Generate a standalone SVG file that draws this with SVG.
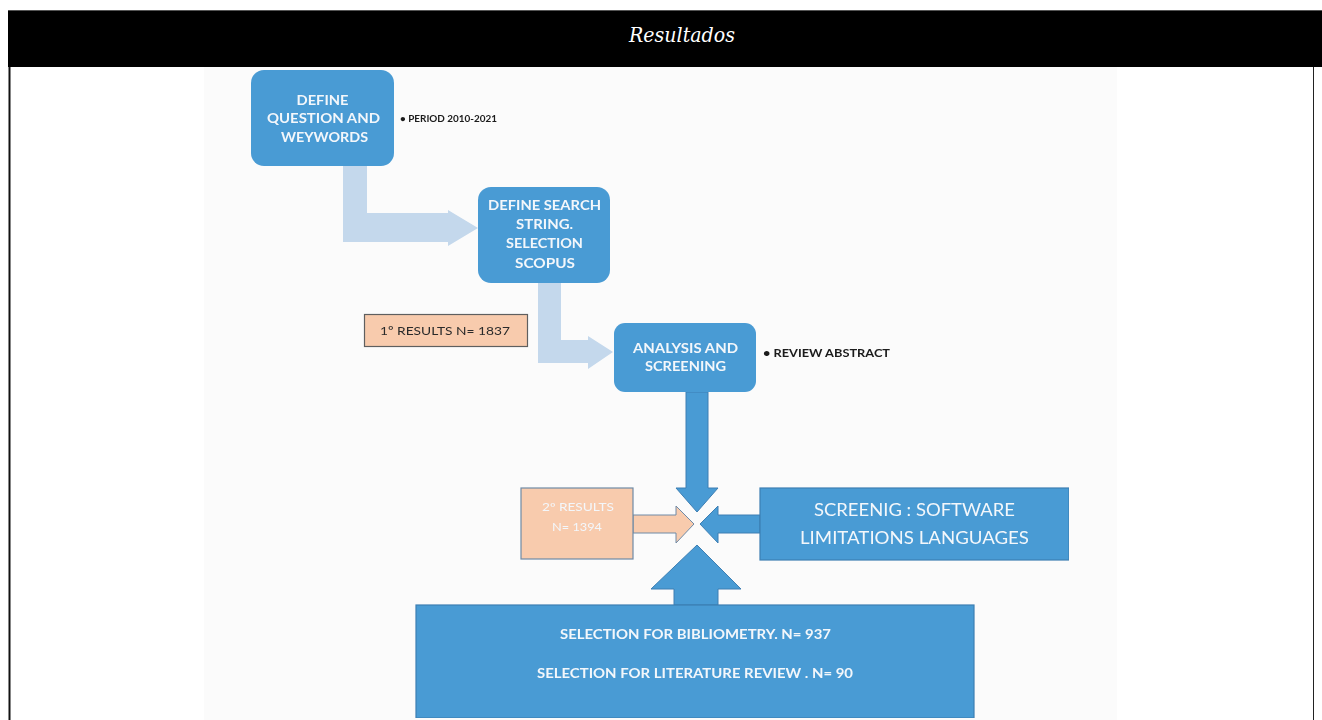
<svg xmlns="http://www.w3.org/2000/svg" width="1322" height="720" viewBox="0 0 1322 720">
  <defs>
    <style>
      .box { fill: #4a9bd4; }
      .rect-box { fill: #4a9bd4; stroke: #3d7fb3; stroke-width: 1.2; }
      .peach { fill: #f8cbad; stroke: #6f8aa6; stroke-width: 1.2; }
      .peach-dark { fill: #f8cbad; stroke: #5f5f5f; stroke-width: 1.2; }
      .light-arrow { fill: #c4d8ec; }
      .blue-arrow { fill: #4a9bd4; stroke: #3d7fb3; stroke-width: 1; }
      .peach-arrow { fill: #f8cbad; stroke: #6f8aa6; stroke-width: 1; }
      .lbl { font-family: Lato, "Liberation Sans", sans-serif; font-weight: bold; fill: #f3f7fb; text-anchor: middle; }
      .note { font-family: Lato, "Liberation Sans", sans-serif; font-weight: bold; fill: #1a1a1a; }
      .title { font-family: "DejaVu Serif", "Liberation Serif", serif; font-style: italic; fill: #ffffff; text-anchor: middle; }
    </style>
    <filter id="soft" x="0" y="0" width="1" height="1">
      <feGaussianBlur stdDeviation="0.45"/>
    </filter>
  </defs>

  <!-- page and frame -->
  <rect x="0" y="0" width="1322" height="720" fill="#ffffff"/>
  <rect x="8" y="10" width="1314" height="57" fill="#000000"/>
  <line x1="8" y1="10.5" x2="1322" y2="10.5" stroke="#555555" stroke-width="1"/>
  <line x1="9.5" y1="67" x2="9.5" y2="720" stroke="#111111" stroke-width="2"/>
  <line x1="1313.5" y1="67" x2="1313.5" y2="720" stroke="#222222" stroke-width="1"/>
  <text class="title" x="682" y="42" font-size="20" textLength="106" lengthAdjust="spacingAndGlyphs">Resultados</text>

  <!-- figure panel -->
  <rect x="204" y="67" width="913" height="653" fill="#fbfbfb"/>

  <g filter="url(#soft)">
    <!-- connectors -->
    <g id="connectors">
      <path class="light-arrow" d="M343,166 H367 V213 H448 V210 L478,228 L448,246 V242 H343 Z"/>
      <path class="light-arrow" d="M538,283 H561 V340 H588 V336 L613,352 L588,369 V363 H538 Z"/>
      <path class="blue-arrow" d="M686,392 H708 V488 H718 L697,512 L676,488 H686 Z"/>
      <path class="peach-arrow" d="M633,515 H676 V506 L694,524 L676,543 V533 H633 Z"/>
      <path class="blue-arrow" d="M760,515 H718 V506 L700,524 L718,543 V533 H760 Z"/>
      <path class="blue-arrow" d="M674,605 V589 H651 L697,545 L741,589 H718 V605 Z"/>
    </g>

    <g id="define-question">
      <rect class="box" x="251" y="70" width="143" height="96" rx="13"/>
      <text class="lbl" font-size="13" x="322.5" y="105" textLength="52" lengthAdjust="spacingAndGlyphs">DEFINE</text>
      <text class="lbl" font-size="13" x="323.5" y="123" textLength="113" lengthAdjust="spacingAndGlyphs">QUESTION AND</text>
      <text class="lbl" font-size="13" x="324.5" y="142" textLength="87" lengthAdjust="spacingAndGlyphs">WEYWORDS</text>
    </g>

    <g id="note-period">
      <text class="note" font-size="10" x="400" y="122" textLength="97" lengthAdjust="spacingAndGlyphs">• PERIOD 2010-2021</text>
    </g>

    <g id="define-search">
      <rect class="box" x="478" y="187" width="132" height="96" rx="13"/>
      <text class="lbl" font-size="13" x="544.5" y="210" textLength="113" lengthAdjust="spacingAndGlyphs">DEFINE SEARCH</text>
      <text class="lbl" font-size="13" x="544.5" y="229" textLength="57" lengthAdjust="spacingAndGlyphs">STRING.</text>
      <text class="lbl" font-size="13" x="544.5" y="248" textLength="77" lengthAdjust="spacingAndGlyphs">SELECTION</text>
      <text class="lbl" font-size="13" x="545" y="268" textLength="60" lengthAdjust="spacingAndGlyphs">SCOPUS</text>
    </g>

    <g id="results-1">
      <rect class="peach-dark" x="364.5" y="314.5" width="163" height="32"/>
      <text class="note" font-size="12" x="380" y="335" textLength="130" lengthAdjust="spacingAndGlyphs" style="font-weight:normal;fill:#2a2a2a">1º RESULTS  N= 1837</text>
    </g>

    <g id="analysis">
      <rect class="box" x="614" y="323" width="142" height="69" rx="11"/>
      <text class="lbl" font-size="13" x="685.5" y="353" textLength="105" lengthAdjust="spacingAndGlyphs">ANALYSIS AND</text>
      <text class="lbl" font-size="13" x="685.5" y="371" textLength="81" lengthAdjust="spacingAndGlyphs">SCREENING</text>
    </g>

    <g id="note-review">
      <text class="note" font-size="10.5" x="763" y="357" textLength="127" lengthAdjust="spacingAndGlyphs">• REVIEW ABSTRACT</text>
    </g>

    <g id="results-2">
      <rect class="peach" x="521" y="488" width="112" height="71"/>
      <text class="lbl" font-size="11" x="578" y="511" textLength="72" lengthAdjust="spacingAndGlyphs" style="font-weight:normal">2º RESULTS</text>
      <text class="lbl" font-size="11" x="577" y="531" textLength="50" lengthAdjust="spacingAndGlyphs" style="font-weight:normal">N= 1394</text>
    </g>

    <g id="screening-limits">
      <rect class="rect-box" x="760" y="488" width="309" height="72"/>
      <text class="lbl" font-size="18" x="914.5" y="516" textLength="201" lengthAdjust="spacingAndGlyphs" style="font-weight:normal">SCREENIG : SOFTWARE</text>
      <text class="lbl" font-size="18" x="914.5" y="544" textLength="229" lengthAdjust="spacingAndGlyphs" style="font-weight:normal">LIMITATIONS LANGUAGES</text>
    </g>

    <g id="selection">
      <rect class="rect-box" x="416" y="605" width="558" height="113"/>
      <text class="lbl" font-size="13" x="695.5" y="639" textLength="271" lengthAdjust="spacingAndGlyphs">SELECTION FOR BIBLIOMETRY. N= 937</text>
      <text class="lbl" font-size="13" x="695" y="678" textLength="316" lengthAdjust="spacingAndGlyphs">SELECTION FOR LITERATURE REVIEW . N= 90</text>
    </g>
  </g>
</svg>
